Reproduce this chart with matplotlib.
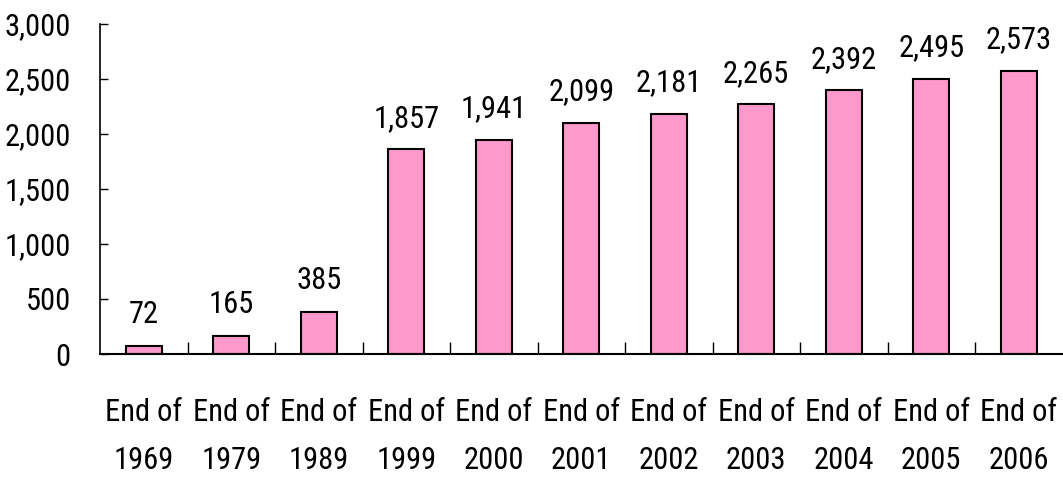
import matplotlib
matplotlib.use("Agg")
import matplotlib.pyplot as plt
from matplotlib import font_manager

categories = ["End of\n1969", "End of\n1979", "End of\n1989", "End of\n1999", "End of\n2000",
              "End of\n2001", "End of\n2002", "End of\n2003", "End of\n2004", "End of\n2005", "End of\n2006"]
values = [72, 165, 385, 1857, 1941, 2099, 2181, 2265, 2392, 2495, 2573]
yticks = [0, 500, 1000, 1500, 2000, 2500, 3000]

names = {f.name for f in font_manager.fontManager.ttflist}
fam = [n for n in ["Liberation Sans Narrow", "Roboto Condensed", "DejaVu Sans Condensed", "Liberation Sans"] if n in names]
plt.rcParams["font.family"] = fam + ["DejaVu Sans"]
FS = 22

fig = plt.figure(figsize=(10.63, 4.79), dpi=100)
ax = fig.add_axes([100/1063, 125/479, 962.5/1063, 330.5/479])

x = list(range(len(values)))
bars = ax.bar(x, values, width=0.41, color="#FF99CC", edgecolor="black", linewidth=1.5)
for xi, v in zip(x, values):
    ax.annotate(f"{v:,}", (xi, v), xytext=(0, 12), textcoords="offset points",
                ha="center", va="bottom", fontsize=FS)

ax.set_xlim(-0.5, len(values) - 0.5)
ax.set_ylim(0, 3000)
ax.set_yticks(yticks)
ax.set_yticklabels([f"{t:,}" for t in yticks], fontsize=FS)
ax.tick_params(axis="y", direction="in", length=6, width=1, pad=21)
ax.set_xticks([i + 0.5 for i in x[:-1]])
ax.set_xticklabels([])
ax.tick_params(axis="x", direction="in", length=9, width=1)
for xi, c in zip(x, categories):
    ax.annotate(c, (xi, 0), xycoords=("data", "axes fraction"), xytext=(0, -32),
                textcoords="offset points", ha="center", va="top", fontsize=FS,
                linespacing=1.8)

for s in ["top", "right"]:
    ax.spines[s].set_visible(False)
ax.spines["left"].set_linewidth(1.2)
ax.spines["bottom"].set_linewidth(1.5)

fig.savefig("out.png", dpi=100)
